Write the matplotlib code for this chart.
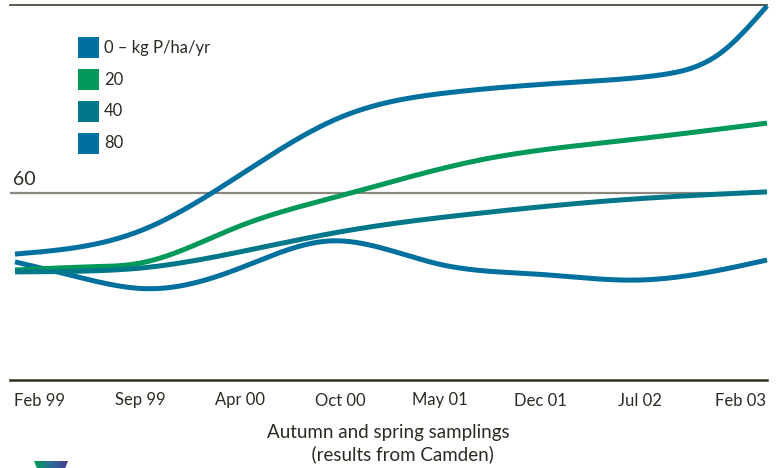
import numpy as np
import matplotlib
matplotlib.use('Agg')
import matplotlib.pyplot as plt
from matplotlib.patches import Rectangle, Polygon

plt.rcParams['font.family'] = ['Lato', 'DejaVu Sans']

#------------------------------------------------------------------------------------------------ data

tick_labels = ['Feb 99', 'Sep 99', 'Apr 00', 'Oct 00', 'May 01', 'Dec 01', 'Jul 02', 'Feb 03']

# read points, x in units of the tick spacing (0 = Feb 99, 7 = Feb 03)
x0  = [-0.25, 0.3, 1.1, 2.0, 2.9, 4.0, 5.0, 6.0, 7.27]
p0  = [37.8, 33.6, 29.2, 35.8, 44.5, 37.0, 33.8, 32.0, 38.4]

x20 = [-0.25, 0.5, 1.0, 2.0, 3.0, 4.4, 5.8, 7.27]
p20 = [35.2, 36.2, 37.4, 49.3, 58.9, 70.4, 76.5, 82.2]

x40 = [-0.25, 0.5, 1.0, 2.0, 3.0, 4.4, 5.8, 7.27]
p40 = [34.6, 34.9, 35.8, 41.0, 47.4, 53.4, 57.6, 60.2]

x80 = [-0.25, 1.0, 2.0, 3.0, 4.1, 5.4, 6.2, 6.8, 7.27]
p80 = [40.3, 47.7, 65.6, 84.0, 92.0, 95.4, 97.6, 104.5, 119.7]

labels = ['0 \u2013 kg P/ha/yr', '20', '40', '80']
colors = ['#00709e', '#00995a', '#00788a', '#00709e']

#------------------------------------------------------------------------------------------------ natural cubic spline through the read points

def smooth(x, y, n=500):
    x = np.asarray(x, float)
    y = np.asarray(y, float)
    k = len(x)
    h = np.diff(x)
    A = np.zeros((k, k))
    b = np.zeros(k)
    A[0, 0] = A[-1, -1] = 1
    for j in range(1, k - 1):
        A[j, j - 1] = h[j - 1]
        A[j, j] = 2 * (h[j - 1] + h[j])
        A[j, j + 1] = h[j]
        b[j] = 3 * ((y[j + 1] - y[j]) / h[j] - (y[j] - y[j - 1]) / h[j - 1])
    c = np.linalg.solve(A, b)
    bb = np.diff(y) / h - h * (2 * c[:-1] + c[1:]) / 3
    d = np.diff(c) / (3 * h)
    xs = np.linspace(x[0], x[-1], n)
    i = np.clip(np.searchsorted(x, xs) - 1, 0, k - 2)
    t = xs - x[i]
    ys = y[i] + bb[i] * t + c[i] * t**2 + d[i] * t**3
    return xs, ys

#------------------------------------------------------------------------------------------------ figure

W, H = 776, 468
fig = plt.figure(figsize=(W/100, H/100), dpi=100)
ax = fig.add_axes([10/W, 1 - 380/H, (767 - 10)/W, (380 - 5)/H])

ax.set_xlim(-0.3, 7.27)
ax.set_ylim(0, 120)

for xx, ser, c in zip([x0, x20, x40, x80], [p0, p20, p40, p80], colors):
    xs, ys = smooth(xx, ser)
    ax.plot(xs, ys, color=c, lw=3.6, solid_capstyle='butt', clip_on=False, zorder=3)

ax.axhline(60, color='#8c8880', lw=1.6, zorder=2)
ax.text(-0.27, 61.3, '60', fontsize=14, color='#2b2b22', va='bottom', ha='left')

for s in ['left', 'right']:
    ax.spines[s].set_visible(False)
ax.spines['top'].set_color('#4a4a3c')
ax.spines['top'].set_linewidth(1.3)
ax.spines['bottom'].set_color('#2f2f22')
ax.spines['bottom'].set_linewidth(1.8)

ax.set_yticks([])
ax.set_xticks(range(len(tick_labels)))
ax.set_xticklabels(tick_labels, fontsize=12, color='#2b2b22')
ax.tick_params(axis='x', length=0, pad=9)

ax.set_xlabel('Autumn and spring samplings\n      (results from Camden)', fontsize=13.5,
              color='#2b2b22', labelpad=11, linespacing=1.3)

# legend drawn by hand: squares and labels in figure pixels
for k, (lab, c) in enumerate(zip(labels, colors)):
    top = 37 + 32 * k
    fig.patches.append(Rectangle((78/W, 1 - (top + 21)/H), 21/W, 21/H,
                                 transform=fig.transFigure, facecolor=c, edgecolor='none'))
    fig.text(104/W, 1 - (top + 10.5)/H, lab, fontsize=12, color='#2b2b22',
             ha='left', va='center')

# bit of the logo cut off at the bottom edge
grad = np.linspace(0, 1, 64).reshape(1, -1)
cmap = matplotlib.colors.LinearSegmentedColormap.from_list('logo', ['#00a050', '#2a6a9a', '#4a3d8c'])
lax = fig.add_axes([34/W, 0, 34/W, 7/H])
lax.set_axis_off()
im = lax.imshow(grad, aspect='auto', cmap=cmap, extent=[0, 1, 0, 1])
clip = Polygon([[0, 1], [1, 1], [0.92, 0], [0.08, 0]], closed=True, transform=lax.transData)
im.set_clip_path(clip)

fig.savefig('out.png', dpi=100)
